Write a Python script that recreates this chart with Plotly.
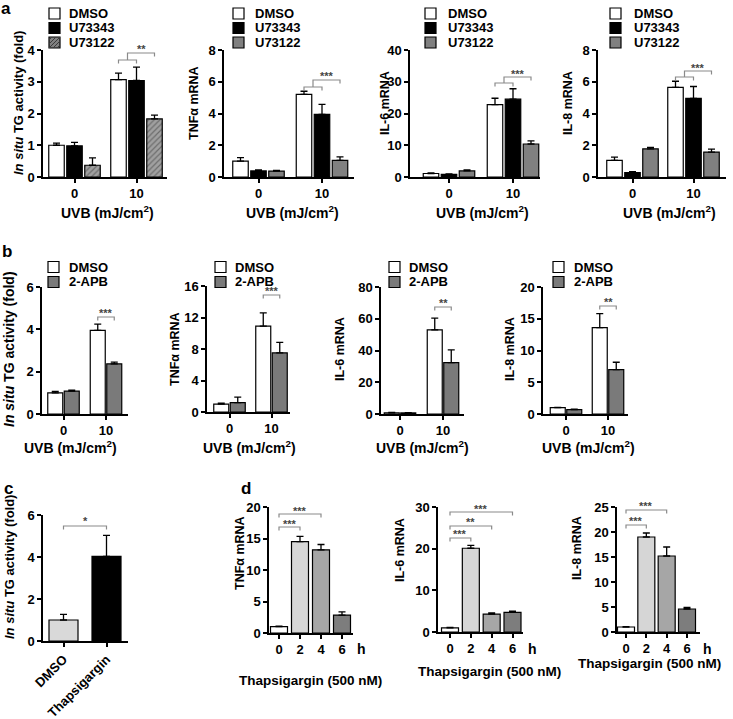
import plotly.graph_objects as go

W, H = 733, 719
FONT = "Arial, 'Liberation Sans', Helvetica, sans-serif"

# ---------------- data ----------------
uvb_doses = ["0", "10"]
a_treatments = ["DMSO", "U73343", "U73122"]
b_treatments = ["DMSO", "2-APB"]
c_treatments = ["DMSO", "Thapsigargin"]
d_hours = ["0", "2", "4", "6"]

# panel a (rows = treatments, columns = UVB dose)
a_tg = [[1.00, 3.07], [0.98, 3.04], [0.37, 1.83]]
a_tg_err = [[0.07, 0.20], [0.11, 0.42], [0.23, 0.12]]
a_tnf = [[1.00, 5.20], [0.38, 3.95], [0.37, 1.05]]
a_tnf_err = [[0.22, 0.20], [0.06, 0.62], [0.05, 0.22]]
a_il6 = [[1.1, 22.8], [0.8, 24.5], [1.9, 10.4]]
a_il6_err = [[0.2, 2.0], [0.2, 3.3], [0.3, 1.0]]
a_il8 = [[1.05, 5.65], [0.27, 4.95], [1.77, 1.57]]
a_il8_err = [[0.20, 0.38], [0.07, 0.75], [0.10, 0.18]]
a_sig = ["**", "***", "***", "***"]

# panel b
b_tg = [[1.00, 3.95], [1.08, 2.37]]
b_tg_err = [[0.07, 0.30], [0.05, 0.08]]
b_tnf = [[1.0, 10.9], [1.2, 7.5]]
b_tnf_err = [[0.12, 1.7], [0.68, 1.35]]
b_il6 = [[0.8, 53.0], [0.7, 32.4]]
b_il6_err = [[0.2, 7.4], [0.2, 8.0]]
b_il8 = [[1.0, 13.6], [0.7, 7.0]]
b_il8_err = [[0.05, 2.2], [0.08, 1.15]]
b_sig = ["***", "***", "**", "**"]

# panel c
c_tg = [1.00, 4.03]
c_tg_err = [0.27, 1.00]
c_sig = "*"

# panel d (Thapsigargin 500 nM time course)
d_tnf = [1.0, 14.5, 13.2, 2.85]
d_tnf_err = [0.10, 0.85, 0.85, 0.50]
d_il6 = [1.0, 20.1, 4.3, 4.7]
d_il6_err = [0.10, 0.70, 0.30, 0.30]
d_il8 = [1.0, 19.0, 15.2, 4.6]
d_il8_err = [0.05, 0.80, 1.80, 0.30]
d_tnf_cmp = [("4", "***"), ("2", "***")]
d_il6_cmp = [("6", "***"), ("4", "**"), ("2", "***")]
d_il8_cmp = [("4", "***"), ("2", "***")]

# ---------------- style ----------------
SPEC = {
    "a1": dict(left=43, right=167, c0=74.5, c1=136.5, top=50, zero=177, ymax=4, dtick=1, bw=15.5, step=18),
    "a2": dict(left=224, right=354, c0=258.5, c1=322, top=50, zero=177, ymax=8, dtick=2, bw=15.5, step=18),
    "a3": dict(left=410, right=540, c0=449, c1=513, top=50, zero=177, ymax=40, dtick=10, bw=15.5, step=18),
    "a4": dict(left=598, right=726, c0=632.5, c1=693.5, top=50, zero=177, ymax=8, dtick=2, bw=15.5, step=18),
    "b1": dict(left=42, right=128, c0=63.5, c1=106, top=287, zero=414, ymax=6, dtick=2, bw=15, step=16.5),
    "b2": dict(left=207, right=290, c0=229.5, c1=271.5, top=286, zero=412, ymax=16, dtick=4, bw=15, step=16.5),
    "b3": dict(left=381, right=464, c0=400, c1=443, top=287, zero=414, ymax=80, dtick=20, bw=15, step=16.5),
    "b4": dict(left=543, right=628, c0=566, c1=608, top=287, zero=414, ymax=20, dtick=5, bw=15, step=16.5),
    "c": dict(left=43, right=128, c0=63.5, c1=106.5, top=515, zero=641, ymax=6, dtick=2, bw=29),
    "d1": dict(left=269, right=353, c0=279, c1=342, top=507, zero=633, ymax=20, dtick=5, bw=17),
    "d2": dict(left=438, right=523, c0=450, c1=512.5, top=507, zero=632, ymax=30, dtick=10, bw=17),
    "d3": dict(left=617, right=700, c0=626, c1=687, top=507, zero=632, ymax=25, dtick=5, bw=17),
}
GRAY_BR = "#8a8a8a"
STAR_COL = "#444444"
HATCH = dict(shape="/", fgcolor="#3a3a3a", bgcolor="#a0a0a0", size=4, solidity=0.3)
a_colors = ["#ffffff", "#000000", "#808080"]
b_colors = ["#ffffff", "#7a7a7a"]
c_colors = ["#d9d9d9", "#000000"]
d_colors = ["#ffffff", "#d6d6d6", "#a6a6a6", "#7d7d7d"]
TICK_SIZE = 13
LEG_SIZE = 13

fig = go.Figure()
layout = {}
shapes = []
annots = []


def pxx(v):
    return v / W


def pxy(v):
    return 1 - v / H


def tfont(size=TICK_SIZE):
    return dict(family=FONT, size=size, color="black", weight="bold")


AX = dict(showline=True, linecolor="black", linewidth=1.5, ticks="outside",
          ticklen=4, tickwidth=1.5, tickcolor="black", showgrid=False,
          zeroline=False, fixedrange=True, automargin=False, tickfont=tfont())
count = [0]


def make_axes(spec, ticktext, tickangle=0, xfont=TICK_SIZE):
    count[0] += 1
    i = count[0]
    sfx = "" if i == 1 else str(i)
    xa, ya = "x" + sfx, "y" + sfx
    n = len(ticktext)
    unit = (spec["c1"] - spec["c0"]) / (n - 1)
    xr = [(spec["left"] - spec["c0"]) / unit, (spec["right"] - spec["c0"]) / unit]
    xax = dict(AX, domain=[pxx(spec["left"]), pxx(spec["right"])], range=xr,
               anchor=ya, tickmode="array", tickvals=list(range(n)),
               ticktext=ticktext, tickangle=tickangle)
    xax["tickfont"] = tfont(xfont)
    layout["xaxis" + sfx] = xax
    layout["yaxis" + sfx] = dict(AX, domain=[pxy(spec["zero"]), pxy(spec["top"])],
                                 range=[0, spec["ymax"]], dtick=spec["dtick"], tick0=0, anchor=xa)
    return xa, ya, unit


def err(e):
    return dict(type="data", symmetric=False, array=e, arrayminus=[0] * len(e),
                color="black", thickness=1.3, width=3.5)


def grouped(spec, series, vals, errs, colors, ticktext, patterns=None):
    xa, ya, unit = make_axes(spec, ticktext)
    bw = spec["bw"] / unit
    step = spec["step"] / unit
    n = len(series)
    centers = []
    for k, name in enumerate(series):
        shift = (k - (n - 1) / 2) * step
        centers.append([c + shift for c in range(len(ticktext))])
        marker = dict(color=colors[k], line=dict(color="black", width=1.2))
        if patterns and patterns[k]:
            marker["pattern"] = patterns[k]
        fig.add_trace(go.Bar(x=list(range(len(ticktext))), y=vals[k], width=bw,
                             offset=shift - bw / 2, name=name, marker=marker,
                             error_y=err(errs[k]), xaxis=xa, yaxis=ya, showlegend=False))
    return xa, centers


def single(spec, name, vals, errs, colors, ticktext, tickangle=0, xfont=TICK_SIZE):
    xa, ya, unit = make_axes(spec, ticktext, tickangle, xfont)
    bw = spec["bw"] / unit
    fig.add_trace(go.Bar(x=list(range(len(ticktext))), y=vals, width=bw, offset=-bw / 2,
                         name=name, marker=dict(color=colors, line=dict(color="black", width=1.2)),
                         error_y=err(errs), xaxis=xa, yaxis=ya, showlegend=False))
    return xa, list(range(len(ticktext)))


def path_shape(xa, pts):
    d = "M" + " L".join(f"{x},{pxy(y)}" for x, y in pts)
    shapes.append(dict(type="path", xref=xa, yref="paper", path=d,
                       line=dict(color=GRAY_BR, width=1.2)))


def star(xa, x, y, label):
    annots.append(dict(xref=xa, yref="paper", x=x, y=pxy(y + 3), text=label, showarrow=False,
                       xanchor="center", yanchor="middle",
                       font=dict(family=FONT, size=11, color=STAR_COL, weight="bold")))


def bracket(xa, x0, x1, y, label, ystar, tick=3.5):
    path_shape(xa, [(x0, y + tick), (x0, y), (x1, y), (x1, y + tick)])
    star(xa, (x0 + x1) / 2, ystar, label)


def nested(xa, x0, x1, x2, ylow, yup, label, ystar, tick=3.5):
    path_shape(xa, [(x0, ylow + tick), (x0, ylow), (x1, ylow), (x1, ylow + tick)])
    mid = (x0 + x1) / 2
    path_shape(xa, [(mid, ylow), (mid, yup), (x2, yup), (x2, yup + tick)])
    star(xa, (mid + x2) / 2, ystar, label)


def text(x, y, s, size=14, angle=0, anchor="center", weight="bold"):
    annots.append(dict(xref="paper", yref="paper", x=pxx(x), y=pxy(y), text=s, showarrow=False,
                       xanchor=anchor, yanchor="middle", textangle=angle,
                       font=dict(family=FONT, size=size, color="black", weight=weight)))


def legend(names, colors, sq_x, txt_x, rows, patterns=None, s=11):
    for k, (name, col, yc) in enumerate(zip(names, colors, rows)):
        x0, y0 = sq_x, yc - s / 2
        shapes.append(dict(type="rect", xref="paper", yref="paper", x0=pxx(x0), x1=pxx(x0 + s),
                           y0=pxy(y0 + s), y1=pxy(y0), fillcolor=col,
                           line=dict(color="black", width=1.2)))
        if patterns and patterns[k]:
            for c in (-8, -4, 0, 4, 8):
                u1, u2 = max(0, -c), min(s, s - c)
                shapes.append(dict(type="line", xref="paper", yref="paper",
                                   x0=pxx(x0 + u1), y0=pxy(y0 + s - (u1 + c)),
                                   x1=pxx(x0 + u2), y1=pxy(y0 + s - (u2 + c)),
                                   line=dict(color="#3a3a3a", width=1)))
        text(txt_x, yc, name, size=LEG_SIZE, anchor="left")


TG_TITLE = "<i>In situ</i> TG activity (fold)"
UVB_TITLE = "UVB (mJ/cm<sup>2</sup>)"

# ---------- row a ----------
a_data = [(a_tg, a_tg_err, "a1", TG_TITLE), (a_tnf, a_tnf_err, "a2", "TNFα mRNA"),
          (a_il6, a_il6_err, "a3", "IL-6 mRNA"), (a_il8, a_il8_err, "a4", "IL-8 mRNA")]
a_title_x = [19, 194, 385, 568]
a_uvb_x = [108, 292, 482, 669]
a_leg = [(49, 67), (233, 253), (425, 446), (610, 632)]
a_br = [(60, 53, 46), (87, 80, 73), (83, 77, 71), (77, 71, 65)]
for j, (vals, errs, key, title) in enumerate(a_data):
    pats = [None, None, HATCH] if j == 0 else None
    xa, cen = grouped(SPEC[key], a_treatments, vals, errs, a_colors, uvb_doses, pats)
    ylow, yup, ys = a_br[j]
    nested(xa, cen[0][1], cen[1][1], cen[2][1], ylow, yup, a_sig[j], ys)
    text(a_title_x[j], 103, title, size=13 if j == 0 else 12.5, angle=-90)
    text(a_uvb_x[j], 212, UVB_TITLE, size=14)
    legend(a_treatments, a_colors, a_leg[j][0], a_leg[j][1], [13.5, 28, 42.5], pats)

# ---------- row b ----------
b_data = [(b_tg, b_tg_err, "b1", TG_TITLE), (b_tnf, b_tnf_err, "b2", "TNFα mRNA"),
          (b_il6, b_il6_err, "b3", "IL-6 mRNA"), (b_il8, b_il8_err, "b4", "IL-8 mRNA")]
b_title_x = [9, 175, 340, 510]
b_uvb_x = [70, 249, 422, 588]
b_leg = [(48, 67), (215, 233), (389, 407), (553, 572)]
b_br = [(317, 310), (295, 288), (307, 300), (306, 299)]
for j, (vals, errs, key, title) in enumerate(b_data):
    xa, cen = grouped(SPEC[key], b_treatments, vals, errs, b_colors, uvb_doses)
    bracket(xa, cen[0][1], cen[1][1], b_br[j][0], b_sig[j], b_br[j][1])
    text(b_title_x[j], 349, title, size=14 if j == 0 else 12.5, angle=-90)
    text(b_uvb_x[j], 447, UVB_TITLE, size=14)
    legend(b_treatments, b_colors, b_leg[j][0], b_leg[j][1], [267, 282])

# ---------- panel c ----------
xa, cen = single(SPEC["c"], "In situ TG activity", c_tg, c_tg_err, c_colors, c_treatments,
                 tickangle=-45, xfont=13)
bracket(xa, cen[0], cen[1], 526, c_sig, 518)
text(9, 567, TG_TITLE, size=13, angle=-90)

# ---------- panel d ----------
d_data = [(d_tnf, d_tnf_err, d_tnf_cmp, "d1", "TNFα mRNA"),
          (d_il6, d_il6_err, d_il6_cmp, "d2", "IL-6 mRNA"),
          (d_il8, d_il8_err, d_il8_cmp, "d3", "IL-8 mRNA")]
d_title_pos = [(240, 553), (400, 550), (577, 548)]
d_thap_pos = [(310, 680), (489, 671), (649, 663)]
d_h_x = [361, 532, 707]
d_br = [[(514, 508), (527, 521)], [(512, 506), (526, 519), (538, 531)], [(510, 503), (525, 518)]]
for j, (vals, errs, cmps, key, title) in enumerate(d_data):
    xa, cen = single(SPEC[key], title, vals, errs, d_colors, d_hours)
    for (target, lab), (yb, ys) in zip(cmps, d_br[j]):
        bracket(xa, cen[0], cen[d_hours.index(target)], yb, lab, ys)
    text(d_title_pos[j][0], d_title_pos[j][1], title, size=12.5, angle=-90)
    text(d_thap_pos[j][0], d_thap_pos[j][1], "Thapsigargin (500 nM)", size=13.5)
    text(d_h_x[j], 649, "h", size=14)

# panel letters
for letter, (x, y) in {"a": (6, 8), "b": (7, 252), "c": (8, 489), "d": (246, 489)}.items():
    text(x, y, letter, size=17)

fig.update_layout(width=W, height=H, margin=dict(l=0, r=0, t=0, b=0, autoexpand=False),
                  paper_bgcolor="white", plot_bgcolor="white", barmode="overlay",
                  showlegend=False, shapes=shapes, annotations=annots,
                  font=dict(family=FONT, color="black"), **layout)
fig.write_html("out.html", config={"displayModeBar": False},
               post_script="document.body.style.margin='0px';")
